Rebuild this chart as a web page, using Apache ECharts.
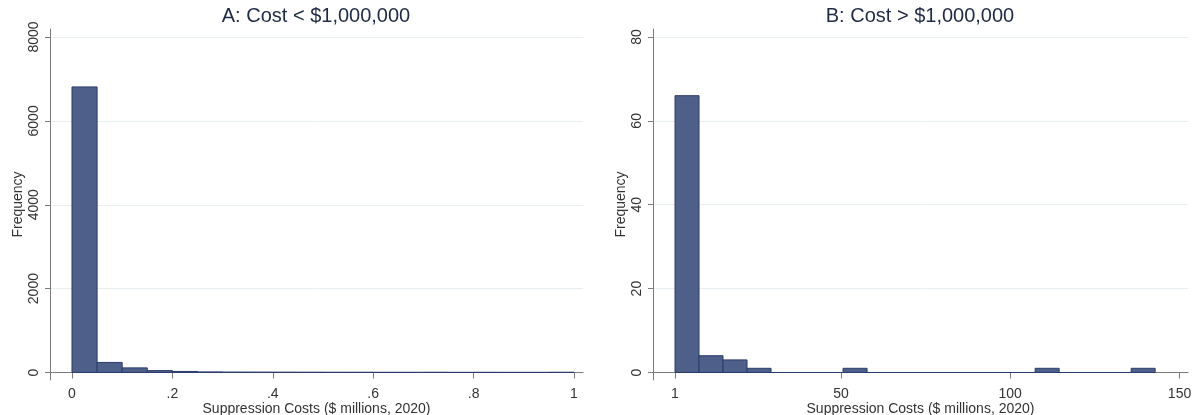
<!DOCTYPE html>
<html>
<head>
<meta charset="utf-8">
<script src="https://cdn.jsdelivr.net/npm/echarts@6/dist/echarts.min.js"></script>
<style>
html,body{margin:0;padding:0;background:#fff;}
#chart{width:1204px;height:415px;}
</style>
</head>
<body>
<div id="chart"></div>
<script>
// ---- Data ----
const titleA = 'A: Cost < $1,000,000';
const titleB = 'B: Cost > $1,000,000';
const xTitle = 'Suppression Costs ($ millions, 2020)';
const yTitle = 'Frequency';

// Panel A bin edges ($ millions) and counts
const edgesA = [0, 0.05, 0.1, 0.15, 0.2, 0.25, 0.3, 0.35, 0.4, 0.45, 0.5,
                0.55, 0.6, 0.65, 0.7, 0.75, 0.8, 0.85, 0.9, 0.95, 1.0];
const countsA = [6810, 240, 110, 45, 25, 14, 10, 9, 8, 7,
                 6, 6, 5, 5, 6, 4, 5, 4, 4, 6];

// Panel B bin edges ($ millions) and counts
const edgesB = [1, 8.09, 15.18, 22.27, 29.36, 36.45, 43.54, 50.63, 57.72, 64.81, 71.9,
                78.99, 86.08, 93.17, 100.26, 107.35, 114.44, 121.53, 128.62, 135.71, 142.8];
const countsB = [66, 4, 3, 1, 0, 0, 0, 1, 0, 0,
                 0, 0, 0, 0, 0, 1, 0, 0, 0, 1];

// Tick values and labels
const xTicksA = [0, 0.2, 0.4, 0.6, 0.8, 1];
const xLabelsA = ['0', '.2', '.4', '.6', '.8', '1'];
const yTicksA = [0, 2000, 4000, 6000, 8000];
const yLabelsA = ['0', '2000', '4000', '6000', '8000'];
const xTicksB = [1, 50, 100, 150];
const xLabelsB = ['1', '50', '100', '150'];
const yTicksB = [0, 20, 40, 60, 80];
const yLabelsB = ['0', '20', '40', '60', '80'];

// ---- Build ----
function binData(edges, counts) {
  return counts.map((c, i) => [edges[i], edges[i + 1], c]);
}
const FONT = 'Liberation Sans, Arial, sans-serif';
const AX = '#7a7a7a';
const TXT = '#333333';
const FILL = '#4e5f8a';
const EDGE = '#2b3d6a';

function renderItem(params, api) {
  const x0 = api.value(0), x1 = api.value(1), c = api.value(2);
  const p0 = api.coord([x0, c]);
  const p1 = api.coord([x1, 0]);
  return {
    type: 'rect',
    shape: { x: p0[0], y: p0[1], width: p1[0] - p0[0], height: p1[1] - p0[1] },
    style: { fill: FILL, stroke: EDGE, lineWidth: 1 }
  };
}
function labelFmt(ticks, labels) {
  return function (v) {
    for (let k = 0; k < ticks.length; k++) if (Math.abs(ticks[k] - v) < 1e-9) return labels[k];
    return '';
  };
}

function xAxisCfg(idx, min, max, ticks, labels) {
  return {
    type: 'value', gridIndex: idx, min: min, max: max,
    name: xTitle, nameLocation: 'middle', nameGap: 22, nameMoveOverlap: false,
    nameTextStyle: { fontFamily: FONT, fontSize: 14, color: TXT },
    axisLine: { show: true, onZero: true, lineStyle: { color: AX, width: 1 } },
    axisTick: { show: true, length: 6, customValues: ticks, lineStyle: { color: AX } },
    axisLabel: {
      customValues: ticks, margin: 7, fontFamily: FONT, fontSize: 14, color: TXT,
      formatter: labelFmt(ticks, labels)
    },
    splitLine: { show: false }
  };
}
function yAxisCfg(idx, min, max, ticks, labels) {
  return {
    type: 'value', gridIndex: idx, min: min, max: max,
    name: yTitle, nameLocation: 'middle', nameGap: 25, nameMoveOverlap: false,
    nameTextStyle: { fontFamily: FONT, fontSize: 14, color: TXT },
    axisLine: { show: true, onZero: false, lineStyle: { color: AX, width: 1 } },
    axisTick: { show: true, length: 5, customValues: ticks, lineStyle: { color: AX } },
    axisLabel: {
      customValues: ticks, rotate: 90, margin: 9, fontFamily: FONT, fontSize: 14, color: TXT,
      formatter: labelFmt(ticks, labels)
    },
    splitLine: { show: true, lineStyle: { color: '#e6eef2', width: 1 } }
  };
}

const chart = echarts.init(document.getElementById('chart'), null, { renderer: 'canvas' });
chart.setOption({
  backgroundColor: '#ffffff',
  animation: false,
  title: [
    { text: titleA, left: 311, top: 1, textAlign: 'center',
      textStyle: { fontFamily: FONT, fontSize: 20, fontWeight: 'normal', color: '#1f2a44' } },
    { text: titleB, left: 915, top: 1, textAlign: 'center',
      textStyle: { fontFamily: FONT, fontSize: 20, fontWeight: 'normal', color: '#1f2a44' } }
  ],
  grid: [
    { left: 50, top: 29, width: 533, height: 351, containLabel: false, outerBoundsMode: 'none' },
    { left: 653, top: 29, width: 535, height: 351, containLabel: false, outerBoundsMode: 'none' }
  ],
  xAxis: [
    xAxisCfg(0, -0.0438, 1.0179, xTicksA, xLabelsA),
    xAxisCfg(1, -5.5, 152.5, xTicksB, xLabelsB)
  ],
  yAxis: [
    yAxisCfg(0, -179, 8191, yTicksA, yLabelsA),
    yAxisCfg(1, -1.79, 81.9, yTicksB, yLabelsB)
  ],
  series: [
    { type: 'custom', xAxisIndex: 0, yAxisIndex: 0, renderItem: renderItem,
      encode: { x: [0, 1], y: 2 }, data: binData(edgesA, countsA) },
    { type: 'custom', xAxisIndex: 1, yAxisIndex: 1, renderItem: renderItem,
      encode: { x: [0, 1], y: 2 }, data: binData(edgesB, countsB) }
  ]
});
</script>
</body>
</html>
